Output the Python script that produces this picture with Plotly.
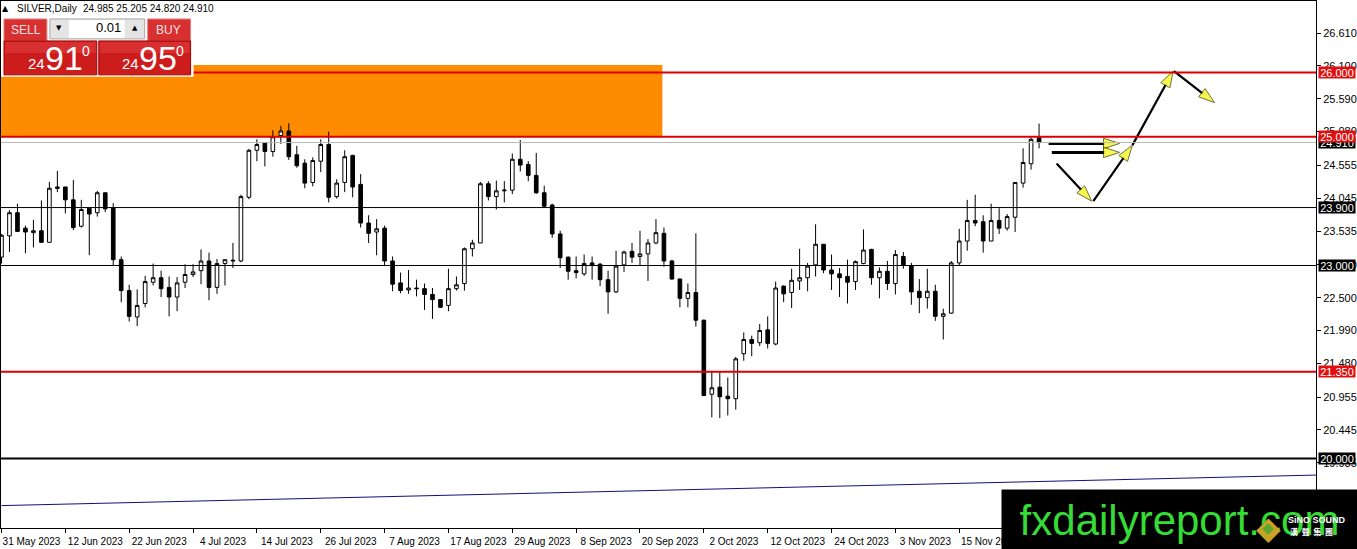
import plotly.graph_objects as go

# ---------------- data ----------------
SYMBOL = "SILVER,Daily"
HEADER_OHLC = "24.985 25.205 24.820 24.910"

X_TICK_LABELS = ["31 May 2023", "12 Jun 2023", "22 Jun 2023", "4 Jul 2023", "14 Jul 2023",
                 "26 Jul 2023", "7 Aug 2023", "17 Aug 2023", "29 Aug 2023", "8 Sep 2023",
                 "20 Sep 2023", "2 Oct 2023", "12 Oct 2023", "24 Oct 2023", "3 Nov 2023",
                 "15 Nov 2023"]
BARS_PER_LABEL = 8

OPEN = [23.13, 23.46, 23.82, 23.58, 23.51, 23.54, 23.36, 24.22, 24.22, 24.02,
        23.61, 23.89, 23.82, 24.13, 23.90, 23.09, 22.61, 22.20, 22.41, 22.74,
        22.81, 22.66, 22.51, 22.74, 22.86, 22.92, 23.07, 22.66, 23.03, 23.07,
        23.07, 24.06, 24.79, 24.91, 24.77, 25.02, 25.09, 24.72, 24.59, 24.29,
        24.62, 24.88, 24.07, 24.29, 24.71, 24.26, 23.66, 23.52, 23.58, 23.07,
        22.73, 22.62, 22.65, 22.64, 22.55, 22.47, 22.38, 22.64, 22.72, 23.26,
        23.35, 24.27, 24.07, 24.16, 24.17, 24.65, 24.57, 24.40, 24.13, 23.94,
        23.49, 23.13, 22.92, 22.87, 23.04, 23.02, 22.78, 22.59, 23.01, 23.22,
        23.14, 23.18, 23.35, 23.50, 23.07, 22.79, 22.49, 22.58, 22.15, 21.00,
        21.11, 20.97, 20.93, 21.63, 21.85, 21.80, 22.00, 21.78, 22.68, 22.58,
        22.76, 22.81, 23.01, 23.33, 22.93, 22.87, 22.83, 22.75, 23.03, 23.25,
        22.81, 22.91, 22.72, 23.14, 23.00, 22.60, 22.50, 22.60, 22.21, 22.26,
        23.04, 23.38, 23.70, 23.68, 23.38, 23.70, 23.58, 23.75, 24.28, 24.58,
        24.985]
HIGH = [23.49, 23.86, 23.96, 23.62, 23.71, 24.01, 24.30, 24.47, 24.22, 24.33,
        24.02, 23.89, 24.16, 24.13, 23.97, 23.14, 22.70, 22.63, 22.84, 23.03,
        22.92, 22.83, 22.82, 23.02, 23.02, 23.25, 23.20, 23.10, 23.09, 23.35,
        24.10, 24.81, 24.96, 24.91, 25.10, 25.17, 25.21, 24.86, 24.65, 24.68,
        24.96, 25.08, 24.34, 24.79, 24.72, 24.42, 23.78, 23.72, 23.62, 23.14,
        22.89, 22.93, 22.78, 22.72, 22.65, 22.48, 22.95, 22.83, 23.28, 23.40,
        24.30, 24.31, 24.32, 24.31, 24.74, 24.95, 24.62, 24.75, 24.24, 23.96,
        23.54, 23.14, 23.14, 23.17, 23.14, 23.04, 22.92, 23.23, 23.23, 23.35,
        23.54, 23.41, 23.72, 23.59, 23.09, 22.80, 22.72, 23.50, 22.16, 21.35,
        21.35, 21.26, 21.58, 21.96, 21.91, 22.09, 22.21, 22.75, 22.69, 22.95,
        23.26, 23.04, 23.64, 23.33, 23.17, 22.96, 23.09, 23.08, 23.56, 23.26,
        22.97, 23.07, 23.24, 23.21, 23.04, 22.79, 22.95, 22.70, 22.33, 23.07,
        23.57, 24.02, 24.10, 23.78, 23.96, 23.89, 23.80, 24.29, 24.82, 24.99,
        25.205]
LOW = [23.03, 23.21, 23.52, 23.19, 23.28, 23.35, 23.36, 24.14, 23.81, 23.55,
       23.59, 23.16, 23.76, 23.83, 23.00, 22.43, 22.13, 22.06, 22.35, 22.69,
       22.51, 22.21, 22.29, 22.65, 22.82, 22.71, 22.46, 22.56, 22.69, 22.96,
       23.05, 24.03, 24.62, 24.54, 24.69, 24.89, 24.64, 24.52, 24.20, 24.23,
       24.45, 23.98, 24.04, 24.14, 24.06, 23.59, 23.35, 23.16, 23.00, 22.60,
       22.57, 22.56, 22.52, 22.31, 22.17, 22.34, 22.29, 22.61, 22.61, 23.14,
       23.35, 24.01, 23.87, 23.98, 24.11, 24.46, 24.31, 24.11, 23.90, 23.43,
       22.96, 22.78, 22.80, 22.84, 22.78, 22.68, 22.25, 22.57, 22.90, 23.04,
       23.00, 22.76, 23.33, 22.98, 22.78, 22.35, 22.35, 22.05, 20.97, 20.64,
       20.63, 20.67, 20.76, 21.52, 21.59, 21.75, 21.71, 21.76, 22.43, 22.34,
       22.62, 22.60, 22.83, 22.88, 22.62, 22.51, 22.41, 22.62, 23.02, 22.70,
       22.49, 22.62, 22.55, 22.95, 22.39, 22.26, 22.33, 22.14, 21.85, 22.25,
       23.00, 23.23, 23.61, 23.20, 23.38, 23.49, 23.54, 23.52, 24.21, 24.49,
       24.82]
CLOSE = [23.47, 23.82, 23.53, 23.52, 23.54, 23.36, 24.20, 24.20, 24.02, 23.59,
         23.87, 23.80, 24.13, 23.88, 23.09, 22.61, 22.21, 22.38, 22.75, 22.81,
         22.64, 22.51, 22.73, 22.86, 22.90, 23.07, 22.66, 23.03, 23.09, 23.08,
         24.07, 24.79, 24.88, 24.77, 25.00, 25.09, 24.69, 24.55, 24.28, 24.63,
         24.88, 24.06, 24.28, 24.69, 24.22, 23.66, 23.50, 23.57, 23.07, 22.71,
         22.61, 22.65, 22.64, 22.55, 22.47, 22.35, 22.64, 22.70, 23.26, 23.35,
         24.27, 24.07, 24.16, 24.17, 24.65, 24.56, 24.40, 24.13, 23.92, 23.49,
         23.12, 22.91, 22.89, 23.03, 23.00, 22.78, 22.59, 22.99, 23.21, 23.13,
         23.18, 23.35, 23.51, 23.07, 22.79, 22.49, 22.58, 22.15, 20.98, 21.10,
         20.96, 20.93, 21.55, 21.85, 21.79, 21.99, 21.79, 22.65, 22.56, 22.77,
         22.81, 22.99, 23.33, 22.93, 22.87, 22.81, 22.74, 23.06, 23.24, 22.81,
         22.91, 22.72, 23.17, 23.01, 22.59, 22.50, 22.60, 22.21, 22.25, 23.04,
         23.38, 23.70, 23.66, 23.38, 23.70, 23.58, 23.76, 24.29, 24.60, 24.96,
         24.910]

Y_TICKS = [26.610, 26.100, 25.590, 25.080, 24.555, 24.045, 23.535, 23.010,
           22.500, 21.990, 21.480, 20.955, 20.445, 19.935]
RED_LEVELS = [26.000, 25.000, 21.350]
BLACK_LEVELS = [23.900, 23.000]
THICK_BLACK_LEVELS = [20.000]
BID = 24.910

ZONE_X = [-0.5, 82.8]          # resistance zone (bar index span)
ZONE_Y = [25.000, 26.116]
TREND_X = [0, 165]
TREND_Y = [19.27, 19.745]

ARROW_PATHS = [
    ([131.2, 140.1], [24.896, 24.896]),
    ([131.6, 140.1], [24.757, 24.757]),
    ([132.2, 136.6], [24.586, 24.000]),
    ([136.8, 141.7, 146.8], [24.000, 24.870, 26.020]),
    ([146.9, 152.0], [26.020, 25.530]),
]

SELL_PRICE = ("24", "91", "0")
BUY_PRICE = ("24", "95", "0")
LOT = "0.01"
WATERMARK = "fxdailyreport.com"
LOGO_EN = "SiNO SOUND"
LOGO_ZH = "漢\u00a0\u00a0聲\u00a0\u00a0集\u00a0\u00a0團"

# ---------------- geometry / style ----------------
W, H = 1357, 549
PLOT_R, PLOT_B = 1318, 528
Y_RANGE = [18.922, 27.109]
X_RANGE = [-0.0625, 164.7]
FONT = "Liberation Sans"


def px(x):
    return x / PLOT_R


def py(y):
    return 1 - y / PLOT_B


bars = list(range(len(OPEN)))

fig = go.Figure()

fig.add_trace(go.Scatter(x=TREND_X, y=TREND_Y, mode="lines",
                         line=dict(color="#101080", width=1), hoverinfo="skip",
                         showlegend=False))

fig.add_trace(go.Candlestick(
    x=bars, open=OPEN, high=HIGH, low=LOW, close=CLOSE,
    increasing=dict(line=dict(color="black", width=1), fillcolor="white"),
    decreasing=dict(line=dict(color="black", width=1), fillcolor="black"),
    whiskerwidth=0, hoverinfo="skip", showlegend=False))

for xs, ys in ARROW_PATHS:
    horizontal = ys[0] == ys[-1]
    fig.add_trace(go.Scatter(
        x=xs, y=ys, mode="lines+markers",
        line=dict(color="black", width=3 if horizontal else 2.2),
        marker=dict(symbol="arrow", size=[0] + [17] * (len(xs) - 1),
                    angleref="previous", color="#f4f400",
                    line=dict(color="#333300", width=1)),
        hoverinfo="skip", showlegend=False))

shapes = []
# orange zone (background)
shapes.append(dict(type="rect", xref="x", yref="y", x0=ZONE_X[0], x1=ZONE_X[1],
                   y0=ZONE_Y[0], y1=ZONE_Y[1], fillcolor="#ff8c00",
                   line=dict(width=0), layer="below"))
# horizontal levels
shapes.append(dict(type="line", xref="paper", yref="y", x0=0, x1=1, y0=BID, y1=BID,
                   line=dict(color="#b8b8b8", width=1), layer="above"))
for lv in BLACK_LEVELS:
    shapes.append(dict(type="line", xref="paper", yref="y", x0=0, x1=1, y0=lv, y1=lv,
                       line=dict(color="black", width=1), layer="above"))
for lv in THICK_BLACK_LEVELS:
    shapes.append(dict(type="line", xref="paper", yref="y", x0=0, x1=1, y0=lv, y1=lv,
                       line=dict(color="black", width=2), layer="above"))
for lv in RED_LEVELS:
    shapes.append(dict(type="line", xref="paper", yref="y", x0=0, x1=1, y0=lv, y1=lv,
                       line=dict(color="#dd0000", width=2), layer="above"))


def prect(x0, y0, x1, y1, fill, lc=None, lw=0):
    shapes.append(dict(type="rect", xref="paper", yref="paper",
                       x0=px(x0), x1=px(x1), y0=py(y1), y1=py(y0),
                       fillcolor=fill, line=dict(color=lc or fill, width=lw),
                       layer="above"))


# one-click trading panel
prect(0, 15, 193, 76, "white")
prect(3, 18, 46, 40, "#d63030", "#e88080", 1)
prect(147, 18, 190, 40, "#d63030", "#e88080", 1)
prect(49, 18, 144, 38, "#e4e4e4", "#a8a8a8", 1)
prect(68, 19, 124, 37, "white")
prect(3, 40, 96, 74, "#cc1c1c", "#a00000", 1)
prect(98, 40, 190, 74, "#cc1c1c", "#a00000", 1)
prect(4, 41, 95, 52, "#d83030")
prect(99, 41, 189, 52, "#d83030")

ann = []


def ptext(x, y, text, size, color="black", xanchor="center", bold=False, family=FONT):
    ann.append(dict(xref="paper", yref="paper", x=px(x), y=py(y), text=text,
                    showarrow=False, xanchor=xanchor, yanchor="middle",
                    font=dict(size=size, color=color, family=family,
                              weight="bold" if bold else "normal")))


ptext(5, 8, "▲", 8, family="DejaVu Sans")
ptext(14, 8, SYMBOL, 10, xanchor="left")
ptext(80, 8, HEADER_OHLC, 10, xanchor="left")
ptext(25, 29, "SELL", 12, "#ffe4e4")
ptext(168, 29, "BUY", 12, "#ffe4e4")
ptext(58, 27, "▼", 7, family="DejaVu Sans")
ptext(134, 27, "▲", 7, family="DejaVu Sans")
ptext(122, 27, LOT, 13, xanchor="right")
for (a, b, c), x0 in ((SELL_PRICE, 25), (BUY_PRICE, 119)):
    ptext(x0, 63, a, 15, "white", xanchor="left")
    ptext(x0 + 17, 57, b, 34, "white", xanchor="left")
    ptext(x0 + 54, 50, c, 14, "white", xanchor="left")

# right price tags
tags = [(BID, "#000000"), (23.900, "#000000"), (23.000, "#000000"), (20.000, "#000000"),
        (21.350, "#e01010"), (26.000, "#e01010"), (25.000, "#e01010")]
for val, bg in tags:
    ann.append(dict(xref="paper", yref="y", x=1, y=val, xanchor="left", yanchor="middle",
                    xshift=2, text=f"{val:.3f}", showarrow=False, bgcolor=bg,
                    width=36, height=11, borderpad=0,
                    font=dict(size=11, color="white", family=FONT)))

# watermark block
ann.append(dict(xref="paper", yref="paper", x=px(1002), y=py(489), xanchor="left",
                yanchor="top", width=355, height=60, borderpad=0, bgcolor="black",
                text=WATERMARK, showarrow=False, align="center", valign="middle",
                font=dict(size=42, color="#35dc35", family=FONT)))
ptext(1270, 528, "◆", 32, "#c9a227", family="DejaVu Sans")
ptext(1270, 528, "◆", 15, "#5aa82c", family="DejaVu Sans")
ptext(1288, 520, LOGO_EN, 9, "white", xanchor="left", bold=True)
ptext(1290, 532, LOGO_ZH, 8, "white", xanchor="left", bold=True,
      family="Noto Sans CJK TC")

tick_pos = [i * BARS_PER_LABEL for i in range(len(X_TICK_LABELS))]

fig.update_layout(
    width=W, height=H, autosize=False,
    margin=dict(l=0, r=W - PLOT_R, t=0, b=H - PLOT_B),
    paper_bgcolor="white", plot_bgcolor="white",
    font=dict(family=FONT, size=11, color="black"),
    shapes=shapes, annotations=ann, boxgap=0.35,
    showlegend=False, hovermode=False,
    xaxis=dict(range=X_RANGE, showgrid=False, zeroline=False, rangeslider=dict(visible=False),
               showline=True, linecolor="black", linewidth=1, mirror=True,
               tickvals=tick_pos, ticktext=X_TICK_LABELS, ticks="outside", ticklen=4,
               tickcolor="black", tickfont=dict(size=10, family=FONT),
               ticklabelshift=30, fixedrange=True),
    yaxis=dict(range=Y_RANGE, side="right", showgrid=False, zeroline=False,
               showline=True, linecolor="black", linewidth=1, mirror=True,
               tickvals=Y_TICKS, ticktext=[f"{v:.3f}" for v in Y_TICKS],
               ticks="outside", ticklen=4, tickcolor="black",
               tickfont=dict(size=11, family=FONT), fixedrange=True),
)

fig.write_html("out.html", config={"displayModeBar": False},
               post_script="document.body.style.margin='0';document.body.style.overflow='hidden';")
